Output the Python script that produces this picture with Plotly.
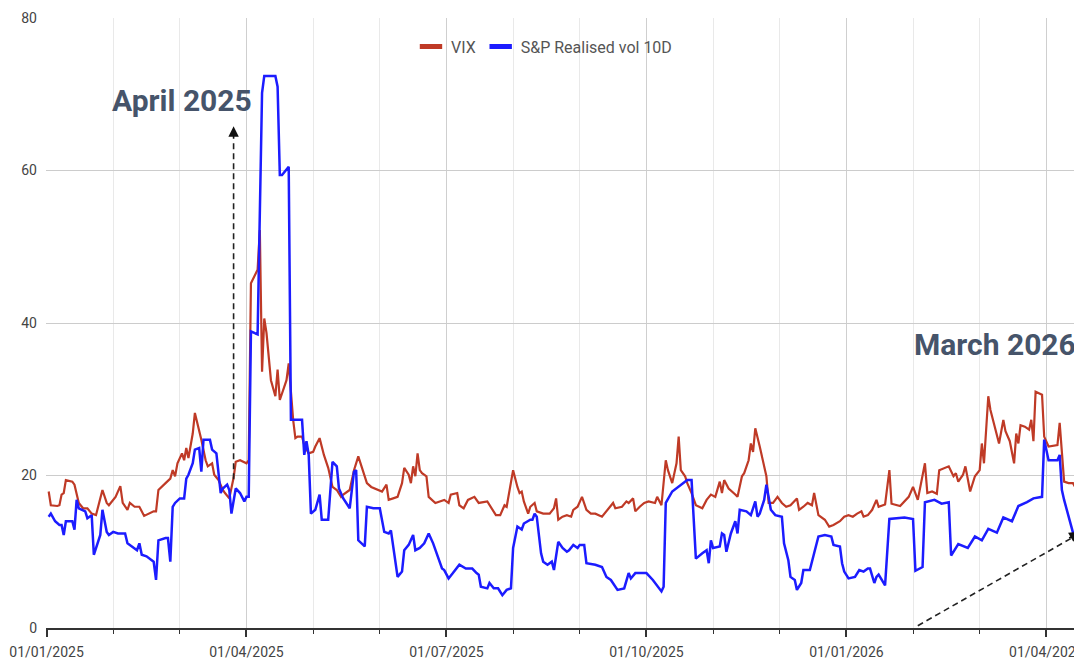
import pandas as pd
import plotly.graph_objects as go

# ---------------- data ----------------
vix_dates = [
 "2025-01-02","2025-01-03","2025-01-06","2025-01-07","2025-01-08","2025-01-09","2025-01-10","2025-01-13","2025-01-14","2025-01-16",
 "2025-01-18","2025-01-20","2025-01-22","2025-01-24","2025-01-27","2025-01-29","2025-01-30","2025-02-02","2025-02-04","2025-02-05",
 "2025-02-07","2025-02-08","2025-02-10","2025-02-12","2025-02-14","2025-02-16","2025-02-18","2025-02-19","2025-02-20","2025-02-23",
 "2025-02-25","2025-02-26","2025-02-27","2025-02-28","2025-03-02","2025-03-03","2025-03-04","2025-03-05","2025-03-07","2025-03-08",
 "2025-03-10","2025-03-11","2025-03-13","2025-03-14","2025-03-16","2025-03-17","2025-03-19","2025-03-21","2025-03-22","2025-03-24",
 "2025-03-26","2025-03-27","2025-03-29","2025-04-01","2025-04-02","2025-04-03","2025-04-06","2025-04-07","2025-04-08","2025-04-09",
 "2025-04-10","2025-04-11","2025-04-12","2025-04-14","2025-04-15","2025-04-16","2025-04-17","2025-04-19","2025-04-20","2025-04-22",
 "2025-04-23","2025-04-24","2025-04-26","2025-04-27","2025-04-29","2025-05-01","2025-05-02","2025-05-04","2025-05-06","2025-05-08",
 "2025-05-10","2025-05-12","2025-05-14","2025-05-15","2025-05-18","2025-05-20","2025-05-22","2025-05-24","2025-05-26","2025-05-28",
 "2025-05-30","2025-06-02","2025-06-04","2025-06-05","2025-06-07","2025-06-09","2025-06-11","2025-06-12","2025-06-14","2025-06-15",
 "2025-06-16","2025-06-17","2025-06-18","2025-06-19","2025-06-20","2025-06-22","2025-06-23","2025-06-26","2025-06-28","2025-06-30",
 "2025-07-02","2025-07-03","2025-07-06","2025-07-07","2025-07-09","2025-07-11","2025-07-14","2025-07-16","2025-07-20","2025-07-22",
 "2025-07-24","2025-07-26","2025-07-28","2025-07-29","2025-08-01","2025-08-03","2025-08-04","2025-08-05","2025-08-06","2025-08-08",
 "2025-08-09","2025-08-11","2025-08-12","2025-08-15","2025-08-18","2025-08-20","2025-08-21","2025-08-22","2025-08-24","2025-08-26",
 "2025-08-28","2025-08-29","2025-08-31","2025-09-02","2025-09-04","2025-09-06","2025-09-08","2025-09-11","2025-09-13","2025-09-16",
 "2025-09-17","2025-09-20","2025-09-22","2025-09-23","2025-09-25","2025-09-26","2025-09-28","2025-09-30","2025-10-02","2025-10-05",
 "2025-10-06","2025-10-08","2025-10-10","2025-10-11","2025-10-13","2025-10-15","2025-10-16","2025-10-17","2025-10-19","2025-10-20",
 "2025-10-22","2025-10-24","2025-10-27","2025-10-29","2025-10-31","2025-11-02","2025-11-04","2025-11-05","2025-11-06","2025-11-08",
 "2025-11-11","2025-11-12","2025-11-14","2025-11-15","2025-11-17","2025-11-18","2025-11-19","2025-11-20","2025-11-22","2025-11-24",
 "2025-11-25","2025-11-26","2025-11-28","2025-11-30","2025-12-02","2025-12-04","2025-12-06","2025-12-09","2025-12-10","2025-12-12",
 "2025-12-14","2025-12-16","2025-12-17","2025-12-19","2025-12-22","2025-12-24","2025-12-26","2025-12-29","2025-12-31","2026-01-02",
 "2026-01-04","2026-01-06","2026-01-08","2026-01-09","2026-01-11","2026-01-13","2026-01-15","2026-01-16","2026-01-19","2026-01-21",
 "2026-01-22","2026-01-26","2026-01-30","2026-02-01","2026-02-03","2026-02-06","2026-02-07","2026-02-09","2026-02-11","2026-02-12",
 "2026-02-14","2026-02-16","2026-02-18","2026-02-19","2026-02-20","2026-02-22","2026-02-23","2026-02-25","2026-02-27","2026-03-01",
 "2026-03-02","2026-03-03","2026-03-05","2026-03-06","2026-03-08","2026-03-09","2026-03-10","2026-03-12","2026-03-13","2026-03-15",
 "2026-03-17","2026-03-18","2026-03-19","2026-03-20","2026-03-22","2026-03-24","2026-03-25","2026-03-26","2026-03-27","2026-03-30",
 "2026-03-31","2026-04-02","2026-04-06","2026-04-07","2026-04-08","2026-04-09","2026-04-11","2026-04-13","2026-04-15","2026-04-17",
]
vix_values = [
 17.9,16.1,16.0,16.1,17.5,17.7,19.4,19.2,18.8,16.4,
 15.7,15.7,15.0,14.8,18.1,16.4,16.1,17.2,18.6,16.4,
 15.5,16.4,15.9,15.9,14.7,15.0,15.3,15.3,18.1,19.0,
 19.6,20.7,19.9,21.6,22.9,22.0,23.6,22.3,25.5,28.2,
 26.0,24.7,22.0,21.2,21.6,20.1,19.4,18.1,17.7,17.0,
 19.7,21.8,22.0,21.6,22.0,45.2,47.0,52.2,33.6,40.6,
 38.7,36.0,32.5,30.4,33.9,29.9,30.8,32.5,34.7,27.3,
 24.9,25.1,25.1,24.0,22.9,23.1,23.8,24.9,22.7,21.0,
 18.5,18.1,17.2,17.5,18.1,20.7,22.5,20.7,19.0,18.5,
 18.3,17.9,18.8,16.8,17.0,17.2,19.0,21.0,20.1,19.0,
 21.2,19.9,22.9,20.7,20.3,19.9,17.2,16.4,16.6,16.8,
 16.4,17.5,17.7,16.1,15.7,16.8,17.2,16.4,16.6,15.7,
 14.8,14.8,16.1,15.9,20.7,18.5,17.7,17.9,16.6,15.0,
 15.9,16.4,15.3,15.0,15.0,15.7,17.0,14.2,14.6,14.8,
 14.6,15.5,15.9,17.2,15.5,15.0,15.0,14.6,15.3,16.4,
 15.7,15.9,16.6,16.4,17.0,15.3,15.9,16.4,16.6,16.4,
 17.2,16.1,22.0,20.7,19.0,21.6,25.1,20.7,19.9,19.0,
 17.7,16.1,15.7,16.8,17.5,17.2,19.2,17.7,19.4,18.3,
 17.5,17.2,19.9,20.3,22.0,24.2,23.1,26.2,23.8,21.4,
 19.9,16.4,16.4,17.2,16.4,15.9,16.1,17.0,15.5,15.9,
 16.4,16.1,17.7,14.8,14.2,13.3,13.5,14.0,14.6,14.8,
 14.6,15.0,15.3,14.6,14.8,15.5,16.8,15.9,16.2,20.7,
 16.3,16.0,17.2,18.5,16.8,21.6,17.7,17.9,17.6,20.7,
 21.0,21.2,19.9,20.3,19.2,20.1,21.2,17.9,19.9,20.7,
 24.2,21.6,30.4,28.6,26.4,25.1,24.2,27.3,25.8,24.5,
 21.6,25.5,24.2,26.6,26.4,26.0,27.3,24.5,31.0,30.6,
 25.1,23.8,24.0,26.9,22.5,19.2,19.0,19.0,17.9,17.2,
]

rv_dates = [
 "2025-01-02","2025-01-03","2025-01-05","2025-01-07","2025-01-08","2025-01-09","2025-01-10","2025-01-13","2025-01-14","2025-01-15",
 "2025-01-16","2025-01-19","2025-01-20","2025-01-22","2025-01-23","2025-01-26","2025-01-27","2025-01-29","2025-01-30","2025-02-01",
 "2025-02-03","2025-02-06","2025-02-07","2025-02-09","2025-02-11","2025-02-12","2025-02-13","2025-02-15","2025-02-17","2025-02-18",
 "2025-02-19","2025-02-20","2025-02-23","2025-02-24","2025-02-25","2025-02-26","2025-02-27","2025-03-01","2025-03-03","2025-03-04",
 "2025-03-05","2025-03-07","2025-03-08","2025-03-10","2025-03-11","2025-03-12","2025-03-15","2025-03-16","2025-03-18","2025-03-20",
 "2025-03-21","2025-03-23","2025-03-24","2025-03-25","2025-03-27","2025-03-29","2025-03-31","2025-04-01","2025-04-02","2025-04-03",
 "2025-04-06","2025-04-08","2025-04-09","2025-04-14","2025-04-15","2025-04-16","2025-04-17","2025-04-20","2025-04-21","2025-04-26",
 "2025-04-27","2025-04-28","2025-04-29","2025-04-30","2025-05-02","2025-05-04","2025-05-05","2025-05-08","2025-05-10","2025-05-12",
 "2025-05-13","2025-05-15","2025-05-18","2025-05-20","2025-05-21","2025-05-22","2025-05-25","2025-05-26","2025-05-29","2025-06-01",
 "2025-06-03","2025-06-05","2025-06-06","2025-06-09","2025-06-11","2025-06-12","2025-06-14","2025-06-16","2025-06-17","2025-06-19",
 "2025-06-21","2025-06-23","2025-06-25","2025-06-27","2025-06-29","2025-06-30","2025-07-02","2025-07-04","2025-07-07","2025-07-10",
 "2025-07-13","2025-07-15","2025-07-16","2025-07-17","2025-07-20","2025-07-21","2025-07-23","2025-07-25","2025-07-27","2025-07-29",
 "2025-07-31","2025-08-01","2025-08-03","2025-08-05","2025-08-06","2025-08-09","2025-08-10","2025-08-11","2025-08-12","2025-08-14",
 "2025-08-15","2025-08-17","2025-08-19","2025-08-20","2025-08-22","2025-08-24","2025-08-26","2025-08-27","2025-08-29","2025-08-31",
 "2025-09-01","2025-09-03","2025-09-04","2025-09-08","2025-09-11","2025-09-13","2025-09-15","2025-09-18","2025-09-21","2025-09-23",
 "2025-09-24","2025-09-26","2025-10-01","2025-10-04","2025-10-07","2025-10-08","2025-10-09","2025-10-10","2025-10-13","2025-10-14",
 "2025-10-16","2025-10-20","2025-10-22","2025-10-23","2025-10-24","2025-10-27","2025-10-29","2025-10-30","2025-10-31","2025-11-01",
 "2025-11-04","2025-11-05","2025-11-06","2025-11-07","2025-11-09","2025-11-11","2025-11-12","2025-11-13","2025-11-16","2025-11-18",
 "2025-11-20","2025-11-21","2025-11-22","2025-11-24","2025-11-25","2025-11-26","2025-11-27","2025-11-29","2025-12-02","2025-12-03",
 "2025-12-05","2025-12-06","2025-12-08","2025-12-09","2025-12-11","2025-12-12","2025-12-15","2025-12-17","2025-12-19","2025-12-22",
 "2025-12-25","2025-12-26","2025-12-29","2025-12-30","2025-12-31","2026-01-02","2026-01-05","2026-01-07","2026-01-09","2026-01-11",
 "2026-01-12","2026-01-14","2026-01-15","2026-01-16","2026-01-19","2026-01-21","2026-01-28","2026-02-01","2026-02-02","2026-02-05",
 "2026-02-06","2026-02-10","2026-02-13","2026-02-16","2026-02-17","2026-02-20","2026-02-24","2026-02-27","2026-03-02","2026-03-05",
 "2026-03-09","2026-03-12","2026-03-16","2026-03-19","2026-03-23","2026-03-26","2026-03-30","2026-03-31","2026-04-02","2026-04-06",
 "2026-04-07","2026-04-08","2026-04-09","2026-04-13","2026-04-17",
]
rv_values = [
 14.6,15.0,14.0,13.5,13.5,12.2,14.0,14.0,12.9,16.8,
 15.7,15.3,14.4,14.8,9.6,12.2,15.5,12.6,12.2,12.6,
 12.4,12.4,11.1,10.7,10.2,11.1,9.6,9.4,8.9,8.7,
 6.3,11.5,11.8,11.8,8.7,15.9,16.4,17.0,17.0,19.6,
 20.1,21.6,23.4,23.6,20.5,24.7,24.7,23.4,22.9,17.7,
 18.3,18.8,18.1,15.0,18.3,17.7,16.6,17.2,17.2,38.9,
 38.5,70.2,72.4,72.4,71.0,59.4,59.4,60.5,27.3,27.3,
 22.7,24.5,22.7,15.0,15.5,17.5,14.2,14.2,21.8,21.2,
 18.3,17.0,15.7,20.5,20.7,11.5,10.7,15.9,15.7,15.7,
 12.6,12.4,12.8,6.7,7.4,10.2,10.9,12.2,10.2,10.5,
 11.1,12.4,11.1,9.4,7.8,7.6,6.5,7.2,8.3,7.8,
 7.8,7.2,7.0,5.4,5.2,5.9,5.2,5.2,4.3,5.0,
 5.2,10.5,13.3,12.9,13.7,14.2,14.2,15.0,14.6,9.8,
 8.7,8.3,8.7,7.6,11.3,10.5,10.0,10.2,10.9,10.5,
 10.9,10.9,8.5,8.3,8.0,6.7,6.3,5.0,5.2,7.2,
 6.5,7.2,7.2,6.3,5.2,4.8,5.4,16.4,17.9,18.1,
 18.5,19.4,19.4,13.3,9.1,9.8,10.2,8.5,11.5,10.5,
 10.7,12.4,12.2,10.0,12.4,14.0,12.4,15.5,15.3,14.8,
 16.6,14.6,15.0,16.8,18.8,17.2,15.5,14.8,14.6,11.1,
 8.9,6.7,6.3,5.0,5.9,7.6,7.6,9.8,12.0,12.2,
 12.0,10.9,10.7,8.5,7.4,6.5,6.7,7.6,7.4,7.8,
 7.8,5.9,6.7,7.0,5.6,14.3,14.5,14.3,7.5,8.0,
 16.5,16.8,16.3,16.5,9.5,11.0,10.5,12.0,11.5,13.0,
 12.5,14.5,14.0,16.0,16.5,17.0,17.2,24.7,22.0,22.0,
 22.7,18.1,16.8,12.5,13.0,
]

tick_dates = ["2025-01-01","2025-04-01","2025-07-01","2025-10-01","2026-01-01","2026-04-01"]
tick_labels = ["01/01/2025","01/04/2025","01/07/2025","01/10/2025","01/01/2026","01/04/2026"]
y_ticks = [0, 20, 40, 60, 80]
series_names = ["VIX", "S&P Realised vol 10D"]


def mpos(d):
    """Month-uniform axis position (one unit per calendar month)."""
    t = pd.Timestamp(d)
    return (t.year - 2025) * 12 + (t.month - 1) + (t.day - 1) / t.days_in_month


vix_x = [mpos(d) for d in vix_dates]
rv_x = [mpos(d) for d in rv_dates]
tick_x = [mpos(d) for d in tick_dates]

RED = "#bf3a26"
BLUE = "#1c1cff"

fig = go.Figure()
fig.add_trace(go.Scatter(x=vix_x, y=vix_values, mode="lines", name=series_names[0],
                         legendgroup="vix", showlegend=False,
                         line=dict(color=RED, width=2.2)))
fig.add_trace(go.Scatter(x=rv_x, y=rv_values, mode="lines", name=series_names[1],
                         legendgroup="rv", showlegend=False,
                         line=dict(color=BLUE, width=2.5)))
# legend entries (short thick bar swatches)
for nm, col, grp in [(series_names[0], RED, "vix"), (series_names[1], BLUE, "rv")]:
    fig.add_trace(go.Scatter(x=[None], y=[None], mode="markers", name=nm, legendgroup=grp,
                             marker=dict(symbol="line-ew", size=16, color=col,
                                         line=dict(color=col, width=5))))

# annotation arrows (dashed shaft + arrow head)
a1_x = mpos("2025-03-26")
fig.add_shape(type="line", xref="x", yref="y", x0=a1_x, y0=19.5, x1=a1_x, y1=64.0,
              line=dict(color="#222222", width=1.6, dash="6px,4px"))
fig.add_annotation(x=a1_x, y=65.8, xref="x", yref="y", text="", showarrow=True,
                   ax=0, ay=14, arrowhead=2, arrowsize=1.3, arrowwidth=1.6, arrowcolor="#111111")

a2_x0 = mpos("2026-02-03")
a2_x1 = mpos("2026-04-16")
fig.add_shape(type="line", xref="x", yref="y", x0=a2_x0, y0=0.3, x1=a2_x1 - 0.12, y1=11.8,
              line=dict(color="#222222", width=1.6, dash="6px,4px"))
fig.add_annotation(x=a2_x1, y=12.6, xref="x", yref="y", text="", showarrow=True,
                   ax=-12, ay=7, arrowhead=2, arrowsize=1.3, arrowwidth=1.6, arrowcolor="#111111")

label_font = dict(family="Roboto, Inter, sans-serif", size=30, color="#46546a",
                  weight="bold")
fig.add_annotation(x=mpos("2025-03-02"), y=69.2, xref="x", yref="y", text="April 2025",
                   showarrow=False, font=label_font, xanchor="center", yanchor="middle")
fig.add_annotation(x=mpos("2026-03-08"), y=37.2, xref="x", yref="y", text="March 2026",
                   showarrow=False, font=label_font, xanchor="center", yanchor="middle")

tick_font = dict(family="Roboto, Arial, sans-serif", size=14, color="#444444")

# page body has an 8px margin: figure is sized/offset so the plot lands where the reference has it
fig.update_layout(
    width=1074, height=654,
    margin=dict(l=38, r=0, t=10, b=34),
    paper_bgcolor="white", plot_bgcolor="white",
    showlegend=True,
    legend=dict(orientation="h", x=0.3523, xanchor="left", y=0.953, yanchor="middle",
                font=dict(family="Roboto, Arial, sans-serif", size=16, color="#555555"),
                bgcolor="rgba(0,0,0,0)", itemwidth=30),
    xaxis=dict(
        range=[-0.008, 15.535], tickmode="array", tickvals=tick_x, ticktext=tick_labels,
        showgrid=True, gridcolor="#cfcfcf", gridwidth=1, zeroline=False,
        showline=True, linecolor="#333333", linewidth=1.5,
        ticks="outside", ticklen=7, tickwidth=1.5, tickcolor="#333333",
        tickfont=tick_font, ticklabelstandoff=3, ticklabeloverflow="allow",
        automargin=False,
        minor=dict(dtick=1, tick0=0, ticks="outside", ticklen=4, tickwidth=1.2,
                   tickcolor="#333333", showgrid=True, gridcolor="#e9e9e9", gridwidth=1),
    ),
    yaxis=dict(
        range=[0, 80], tickmode="array", tickvals=y_ticks,
        showgrid=True, gridcolor="#cccccc", gridwidth=1, zeroline=False,
        showline=False, ticks="", tickfont=tick_font, ticklabelstandoff=8,
        automargin=False,
    ),
)

fig.write_html("out.html")
